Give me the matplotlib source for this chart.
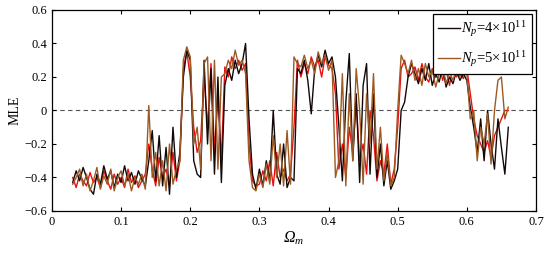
import numpy as np
import matplotlib
matplotlib.use("Agg")
import matplotlib.pyplot as plt

plt.rcParams['font.family'] = ['Liberation Serif', 'DejaVu Serif']
plt.rcParams['mathtext.fontset'] = 'custom'
plt.rcParams['mathtext.rm'] = 'Liberation Serif'
plt.rcParams['mathtext.it'] = 'Liberation Serif:italic'
plt.rcParams['mathtext.bf'] = 'Liberation Serif:bold'

# Omega_m grid: 0.030 ... 0.660, step 0.005
omega = np.round(np.arange(0.030, 0.6601, 0.005), 3)

# N_p = 4e11 (black)
mle_4 = [
    -0.43, -0.36, -0.42, -0.34, -0.40, -0.47, -0.50, -0.38, -0.44, -0.33, -0.41,
    -0.36, -0.46, -0.38, -0.43, -0.33, -0.42, -0.37, -0.44, -0.36, -0.41, -0.45,
    -0.30, -0.12, -0.42, -0.15, -0.45, -0.22, -0.50, -0.10, -0.40, -0.25,
    0.20, 0.36, 0.30, -0.30, -0.38, -0.40,
    0.30, -0.20, 0.25, -0.38, 0.20, -0.43,
    0.15, 0.25, 0.18, 0.30, 0.22, 0.28, 0.40,
    -0.05, -0.38, -0.47,
    -0.35, -0.45, -0.30, -0.42, 0.00, -0.38, -0.44, -0.20, -0.46, -0.40,
    -0.42, 0.25,
    0.22, 0.30, 0.18, -0.02, 0.25, 0.33, 0.26, 0.36, 0.28, 0.32,
    0.20, -0.10, -0.42, 0.05, 0.34, -0.30, 0.10, -0.43, 0.15, 0.28, -0.38, 0.10,
    -0.40, -0.20, -0.45, -0.30, -0.47, -0.42,
    -0.35, 0.00, 0.05, 0.20,
    0.28, 0.22, 0.16, 0.25, 0.18, 0.28, 0.15, 0.22, 0.17, 0.26, 0.14, 0.20,
    0.16, 0.24, 0.18, 0.22, 0.18,
    0.02, -0.10, -0.25, -0.05, -0.30, 0.00, -0.20, -0.35, -0.05, -0.22, -0.38, -0.10,
]

# N_p = 5e11 (brown)
mle_5 = [
    -0.44, -0.40, -0.35, -0.45, -0.38, -0.48, -0.42, -0.34, -0.47, -0.39, -0.44,
    -0.35, -0.48, -0.40, -0.36, -0.45, -0.38, -0.48, -0.40, -0.44, -0.38, -0.47,
    0.03, -0.40, -0.25, -0.45, -0.30, -0.48, -0.20, -0.44, -0.35, -0.30,
    0.30, 0.38, 0.32, -0.20, -0.10, -0.35,
    0.28, 0.32, -0.30, 0.30, -0.35, 0.20,
    0.22, 0.30, 0.25, 0.36, 0.27, 0.30, 0.22,
    -0.30, -0.46, -0.48,
    -0.38, -0.46, -0.32, -0.44, -0.15, -0.40, -0.20, -0.45, -0.12, -0.44,
    0.32, 0.28,
    0.26, 0.33, 0.25, 0.30, 0.22, 0.35, 0.28, 0.33, 0.24, 0.30,
    -0.40, -0.30, 0.22, -0.45, 0.10, -0.30, 0.25, 0.00, -0.44, 0.10, -0.20, 0.22,
    -0.35, -0.10, -0.42, -0.25, -0.45, -0.40,
    0.00, 0.33, 0.28, 0.22,
    0.30, 0.18, 0.25, 0.15, 0.28, 0.20, 0.24, 0.14, 0.22, 0.27, 0.16, 0.23,
    0.18, 0.25, 0.20, 0.26, 0.22,
    -0.05, 0.00, -0.30, -0.10, -0.20, -0.02, -0.32, 0.00, 0.18, 0.20, -0.05, 0.02,
]

# third run drawn underneath (red)
mle_r = [
    -0.40, -0.46, -0.38, -0.42, -0.45, -0.37, -0.43, -0.40, -0.46, -0.36, -0.42,
    -0.47, -0.38, -0.44, -0.40, -0.46, -0.35, -0.43, -0.39, -0.46, -0.42, -0.38,
    -0.20, -0.35, -0.45, -0.28, -0.40, -0.35, -0.45, -0.25, -0.42, -0.30,
    0.25, 0.35, 0.20, -0.10, -0.25, -0.18,
    0.20, -0.10, 0.28, -0.25, 0.10, -0.30,
    0.26, 0.20, 0.32, 0.25, 0.30, 0.24, 0.28,
    -0.20, -0.42, -0.45,
    -0.44, -0.36, -0.42, -0.30, -0.45, -0.25, -0.40, -0.35, -0.42, -0.38,
    -0.10, 0.30,
    0.20, 0.28, 0.22, 0.32, 0.26, 0.30, 0.20, 0.32, 0.27, 0.25,
    0.10, -0.35, -0.20, -0.40, -0.10, -0.25, 0.05, -0.30, -0.20, -0.38, 0.00, -0.15,
    -0.42, -0.30, -0.38, -0.20, -0.44, -0.35,
    -0.10, 0.25, 0.30, 0.20,
    0.22, 0.26, 0.18, 0.28, 0.20, 0.17, 0.25, 0.20, 0.28, 0.18, 0.24, 0.15,
    0.26, 0.20, 0.23, 0.19, 0.25,
    0.10, -0.05, -0.15, -0.20, -0.25, -0.18, -0.28, -0.15, -0.10, -0.05, 0.00, 0.00,
]

xticks = [0, 0.1, 0.2, 0.3, 0.4, 0.5, 0.6, 0.7]
xlabels = ['0', '0.1', '0.2', '0.3', '0.4', '0.5', '0.6', '0.7']
yticks = [-0.6, -0.4, -0.2, 0, 0.2, 0.4, 0.6]
ylabels = ['\u22120.6', '\u22120.4', '\u22120.2', '0', '0.2', '0.4', '0.6']

fig = plt.figure(figsize=(5.5, 2.61), dpi=100)
ax = fig.add_axes([0.0945, 0.1916, 0.88, 0.7701])

ax.axhline(0, color='#555555', ls=(0, (4, 3)), lw=0.8, zorder=1)
ax.plot(omega, mle_r, color='#e81010', lw=1.0, zorder=2)
ax.plot(omega, mle_4, color='#120808', lw=1.0, zorder=3, label=r'$N_p$=4×10$^{11}$')
ax.plot(omega, mle_5, color='#9c5a22', lw=1.0, zorder=4, label=r'$N_p$=5×10$^{11}$')

ax.set_xlim(0, 0.7)
ax.set_ylim(-0.6, 0.6)
ax.set_xticks(xticks)
ax.set_xticklabels(xlabels)
ax.set_yticks(yticks)
ax.set_yticklabels(ylabels)
ax.tick_params(direction='in', top=True, right=True, labelsize=9, length=3, width=0.8)
for s in ax.spines.values():
    s.set_linewidth(0.9)

ax.set_xlabel('\u03a9$_m$', fontsize=11.5, fontstyle='italic', labelpad=1)
ax.set_ylabel('MLE', fontsize=10, labelpad=2)

leg = ax.legend(loc='upper right', fontsize=10.5, frameon=True, fancybox=False,
                edgecolor='black', framealpha=1, handlelength=1.5, handletextpad=0.1,
                borderpad=0.35, labelspacing=0.65, borderaxespad=0.3)
leg.get_frame().set_linewidth(0.9)

fig.savefig('out.png', dpi=100)
